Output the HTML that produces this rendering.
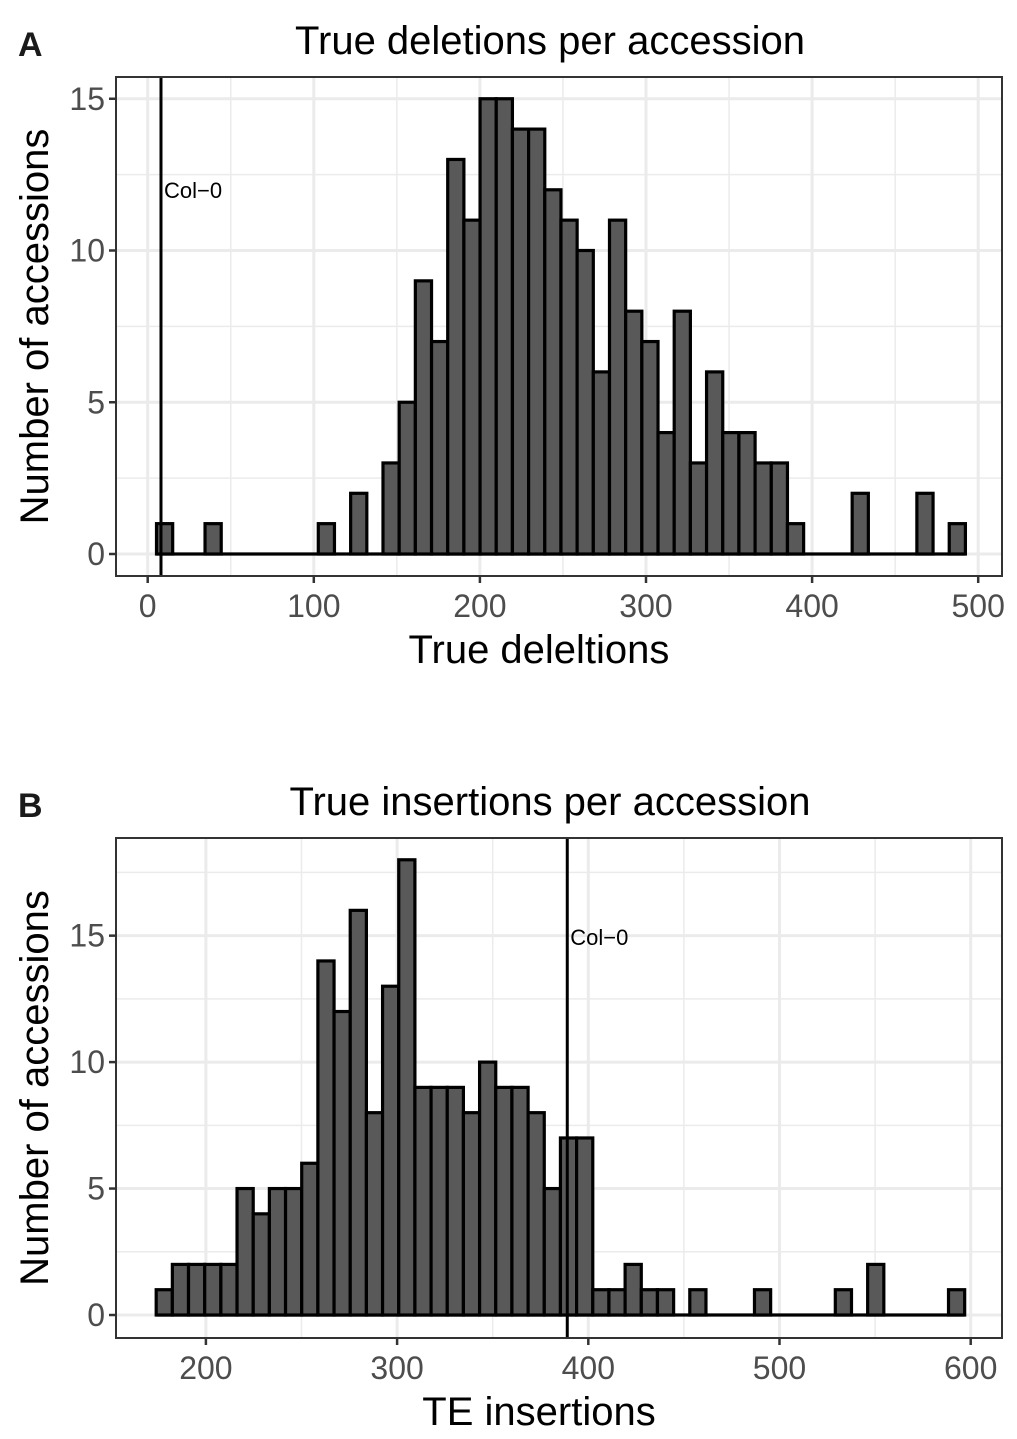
<!DOCTYPE html>
<html><head><meta charset="utf-8">
<style>
html,body{margin:0;padding:0;background:#fff;}
svg{display:block;font-family:"Liberation Sans",Arial,sans-serif;}
</style></head>
<body>
<svg id="fig" width="1017" height="1439" viewBox="0 0 1017 1439" xmlns="http://www.w3.org/2000/svg"></svg>
<script>
// Panel A data
const aStart = 5.3;
const aBinWidth = 9.74;
const aCounts = [1,0,0,1,0,0,0,0,0,0,1,0,2,0,3,5,9,7,13,11,15,15,14,14,12,11,10,6,11,8,7,4,8,3,6,4,4,3,3,1,0,0,0,2,0,0,0,2,0,1];
const aXTicks = [0,100,200,300,400,500];
const aYTicks = [0,5,10,15];
const aCol0 = 8;
// Panel B data
const bStart = 174.0;
const bBinWidth = 8.457;
const bCounts = [1,2,2,2,2,5,4,5,5,6,14,12,16,8,13,18,9,9,9,8,10,9,9,8,5,7,7,1,1,2,1,1,0,1,0,0,0,1,0,0,0,0,1,0,2,0,0,0,0,1];
const bXTicks = [200,300,400,500,600];
const bYTicks = [0,5,10,15];
const bCol0 = 389;

const NS = "http://www.w3.org/2000/svg";
const svg = document.getElementById('fig');
function mk(tag, attrs, parent, text){
  const e = document.createElementNS(NS, tag);
  for (const k in attrs) e.setAttribute(k, attrs[k]);
  if (text !== undefined) e.textContent = text;
  (parent||svg).appendChild(e);
  return e;
}

function panel(cfg){
  const g = mk('g', {});
  
  
  const L=116,R=1002,T=cfg.top,B=cfg.bottom;
  const sx = v => cfg.x0px + (v - cfg.x0v) * cfg.xs;
  const sy = v => cfg.y0px - v * cfg.ys;
  const bg = mk('rect',{x:L,y:T,width:R-L,height:B-T,fill:'#fff'},g);
  
  
  for (const v of cfg.xMinor){ const x=sx(v); if(x>L&&x<R){ const l=mk('line',{x1:x,x2:x,y1:T,y2:B,stroke:'#ebebeb','stroke-width':1.5},g);   } }
  for (const v of cfg.yMinor){ const y=sy(v); if(y>T&&y<B){ const l=mk('line',{x1:L,x2:R,y1:y,y2:y,stroke:'#ebebeb','stroke-width':1.5},g);   } }
  for (const v of cfg.xTicks){ const x=sx(v); const l=mk('line',{x1:x,x2:x,y1:T,y2:B,stroke:'#ebebeb','stroke-width':3},g);   }
  for (const v of cfg.yTicks){ const y=sy(v); const l=mk('line',{x1:L,x2:R,y1:y,y2:y,stroke:'#ebebeb','stroke-width':3},g);   }
  // baseline for zero bins
  const n = cfg.counts.length;
  const base = mk('line',{x1:sx(cfg.start),x2:sx(cfg.start+n*cfg.bw),y1:sy(0),y2:sy(0),stroke:'#000','stroke-width':3.2},g);
  
  
  cfg.counts.forEach((c,i)=>{
    if (c <= 0) return;
    const x1 = sx(cfg.start + i*cfg.bw), x2 = sx(cfg.start + (i+1)*cfg.bw);
    const r = mk('rect',{x:x1,y:sy(c),width:x2-x1,height:sy(0)-sy(c),fill:'#595959',stroke:'#000','stroke-width':3.2},g);
    
    
  });
  const cx = sx(cfg.col0);
  const cl = mk('line',{x1:cx,x2:cx,y1:T,y2:B,stroke:'#000','stroke-width':3},g);
  
  
  const ct = mk('text',{x:cx+3,y:cfg.col0y,'font-size':22,fill:'#000'},g,'Col\u22120');
  
  
  const bd = mk('rect',{x:L,y:T,width:R-L,height:B-T,fill:'none',stroke:'#333','stroke-width':2},g);
  
  
  for (const v of cfg.xTicks){ const x=sx(v);
    mk('line',{x1:x,x2:x,y1:B,y2:B+7,stroke:'#333','stroke-width':2.5},g);
    const t=mk('text',{x:x,y:B+41,'font-size':32,fill:'#4d4d4d','text-anchor':'middle'},g,String(v));
      }
  for (const v of cfg.yTicks){ const y=sy(v);
    mk('line',{x1:L-7,x2:L,y1:y,y2:y,stroke:'#333','stroke-width':2.5},g);
    const t=mk('text',{x:L-11,y:y+11,'font-size':32,fill:'#4d4d4d','text-anchor':'end'},g,String(v));
      }
  const xt = mk('text',{x:539,y:B+87,'font-size':40,fill:'#000','text-anchor':'middle'},g,cfg.xTitle);
   
  const yc=(T+B)/2, yx=48;
  const yt = mk('text',{x:yx,y:yc,'font-size':40,fill:'#000','text-anchor':'middle',transform:`rotate(-90 ${yx} ${yc})`},g,'Number of accessions');
   
  const tt = mk('text',{x:550,y:T-23,'font-size':40,fill:'#000','text-anchor':'middle'},g,cfg.title);
   
  const lt = mk('text',{x:18,y:T-21,'font-size':34,'font-weight':'bold',fill:'#1a1a1a'},g,cfg.letter);
   
}

panel({id:'panel-a',top:77,bottom:576,x0px:147.7,x0v:0,xs:1.661,y0px:554,ys:30.35,
  start:aStart,bw:aBinWidth,counts:aCounts,xTicks:aXTicks,yTicks:aYTicks,
  xMinor:[50,150,250,350,450],yMinor:[2.5,7.5,12.5],col0:aCol0,col0y:198,
  xTitle:'True deleltions',title:'True deletions per accession',letter:'A'});
panel({id:'panel-b',top:838,bottom:1338,x0px:205.9,x0v:200,xs:1.912,y0px:1315,ys:25.29,
  start:bStart,bw:bBinWidth,counts:bCounts,xTicks:bXTicks,yTicks:bYTicks,
  xMinor:[150,250,350,450,550],yMinor:[2.5,7.5,12.5,17.5],col0:bCol0,col0y:945,
  xTitle:'TE insertions',title:'True insertions per accession',letter:'B'});
</script>
</body></html>
